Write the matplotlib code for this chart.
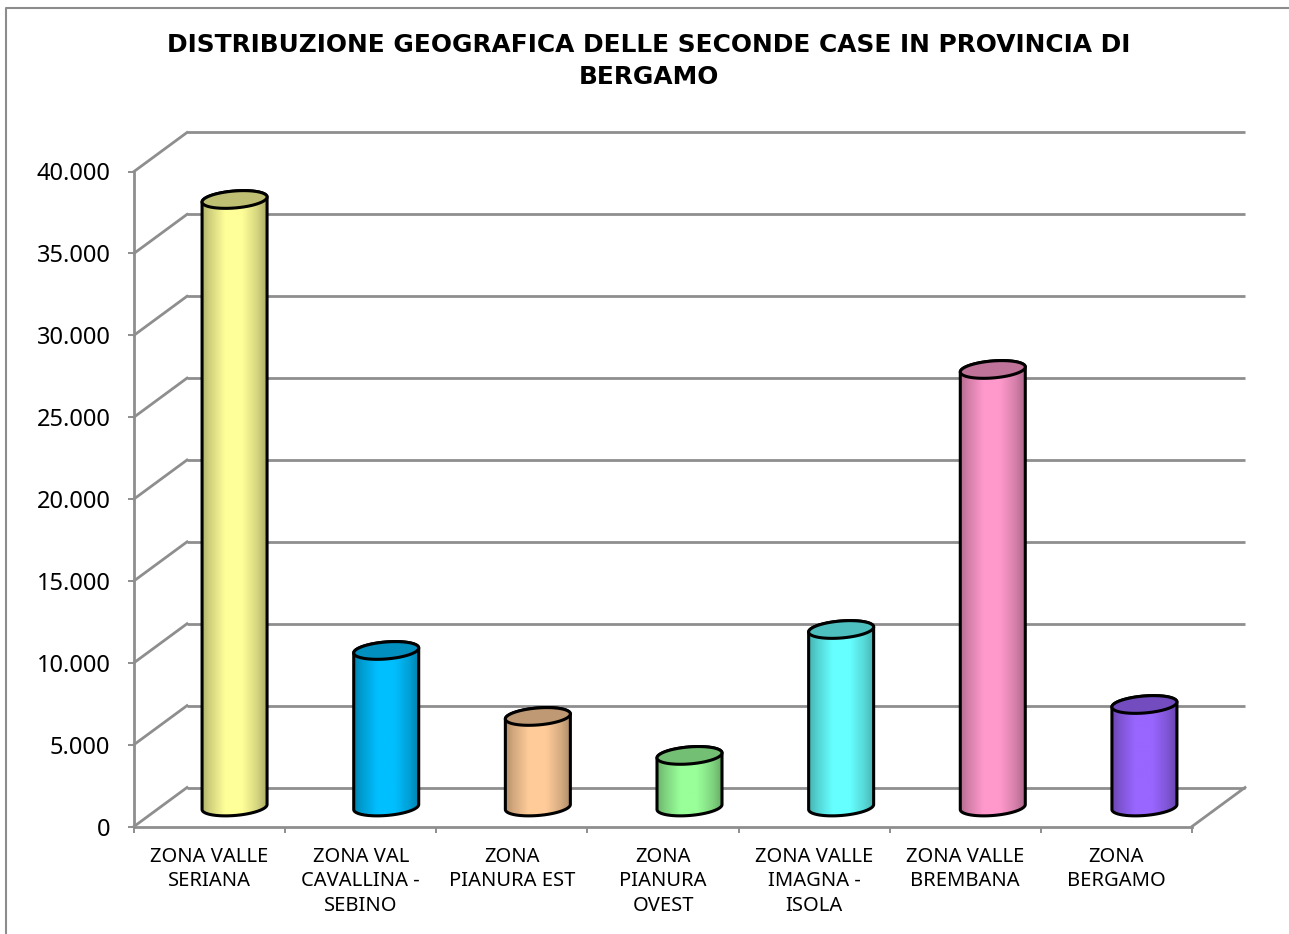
import numpy as np
import matplotlib
matplotlib.use("Agg")
import matplotlib.pyplot as plt
from matplotlib.colors import to_rgb
from matplotlib.lines import Line2D
from matplotlib.patches import Polygon
from matplotlib.path import Path
from matplotlib.ticker import FuncFormatter

plt.rcParams['font.family'] = ['Noto Sans', 'DejaVu Sans']

# Second homes per zone of the Bergamo province
zones = ["ZONA VALLE\nSERIANA", "ZONA VAL\nCAVALLINA -\nSEBINO", "ZONA\nPIANURA EST",
         "ZONA\nPIANURA\nOVEST", "ZONA VALLE\nIMAGNA -\nISOLA", "ZONA VALLE\nBREMBANA",
         "ZONA\nBERGAMO"]
homes = [37100, 9560, 5530, 3150, 10840, 26720, 6260]
colors = ["#FFFF99", "#00BFFF", "#FFCC99", "#99FF99", "#66FFFF", "#FF99CC", "#9966FF"]
y_ticks = [0, 5000, 10000, 15000, 20000, 25000, 30000, 35000, 40000]
title = "DISTRIBUZIONE GEOGRAFICA DELLE SECONDE CASE IN PROVINCIA DI\nBERGAMO"

W, H = 1289, 934
GRID = "#8E8E8E"

fig = plt.figure(figsize=(W / 100, H / 100), dpi=100, facecolor="white")
# Front plane of the pseudo-3D box
left, right, bottom, top = 134, 1192, 826.5, 171.5
ax = fig.add_axes([left / W, 1 - bottom / H, (right - left) / W, (bottom - top) / H])
ax.set_xlim(0, len(zones))
ax.set_ylim(0, 40000)
ax.patch.set_visible(False)

px = len(zones) / (right - left)   # category units per pixel
py = 40000 / (bottom - top)        # value units per pixel
depth_x, depth_y = 53 * px, 39 * py

# Back wall gridlines, side wall diagonals and floor
for v in y_ticks:
    ax.plot([depth_x, len(zones) + depth_x], [v + depth_y] * 2, color=GRID, lw=2,
            clip_on=False, zorder=1, solid_capstyle="butt")
    ax.plot([0, depth_x], [v, v + depth_y], color=GRID, lw=2, clip_on=False, zorder=1)
ax.plot([len(zones), len(zones) + depth_x], [0, depth_y], color=GRID, lw=2,
        clip_on=False, zorder=1)


def ellipse(cx, cy, t):
    a, s, b = 32.5 * px, 2.5 * py, 8.5 * py
    return np.column_stack([cx + a * np.cos(t), cy + s * np.cos(t) + b * np.sin(t)])


for i, (value, color) in enumerate(zip(homes, colors)):
    # Cylinders stand mid-depth, spaced slightly wider than the front axis slots
    cx = i + 0.5 + (25 + 0.5 * i) * px
    base_y, top_y = depth_y / 2, value + depth_y / 2
    t_low = np.linspace(np.pi, 2 * np.pi, 60)
    t_all = np.linspace(0, 2 * np.pi, 120)
    outline = np.vstack([ellipse(cx, base_y, t_low),
                         ellipse(cx, top_y, np.linspace(0, np.pi, 60))])
    base = np.array(to_rgb(color))

    # Cylinder side shading, dark at both edges
    u = np.linspace(0, 1, 128)
    shade = np.interp(u, [0, 0.12, 0.36, 0.62, 0.85, 1], [0.70, 0.82, 1, 1, 0.84, 0.68])
    img = (shade[:, None] * base)[None, :, :]
    body = Polygon(outline, closed=True, facecolor="none", edgecolor="black", lw=2.2,
                   zorder=4, clip_on=False, joinstyle="round")
    im = ax.imshow(img, extent=[cx - 32.5 * px, cx + 32.5 * px, 0, top_y + 10 * py],
                   aspect="auto", zorder=3, interpolation="bilinear")
    im.set_clip_path(Path(outline), transform=ax.transData)
    ax.add_patch(body)
    ax.add_patch(Polygon(ellipse(cx, top_y, t_all), closed=True, facecolor=base * 0.75,
                         edgecolor="black", lw=2.2, zorder=5, clip_on=False))

ax.set_xlim(0, len(zones))
ax.set_ylim(0, 40000)

# Axes
for name in ("top", "right"):
    ax.spines[name].set_visible(False)
for name in ("left", "bottom"):
    ax.spines[name].set_color(GRID)
    ax.spines[name].set_linewidth(2)
ax.set_yticks(y_ticks)
ax.yaxis.set_major_formatter(FuncFormatter(lambda v, _: f"{int(v):,}".replace(",", ".")))
ax.tick_params(axis="y", length=4.5, width=1.4, color=GRID, labelsize=17, pad=12.5)
ax.set_xticks(np.arange(len(zones) + 1))
ax.set_xticklabels([])
ax.set_xticks(np.arange(len(zones)) + 0.5, zones, minor=True)
ax.tick_params(axis="x", which="major", length=4.5, width=1.4, color=GRID)
ax.tick_params(axis="x", which="minor", length=0, labelsize=14.5, pad=14.5)
for lab in ax.get_xticklabels(minor=True):
    lab.set_linespacing(1.31)

fig.text(649 / W, 1 - 61 / H, title, ha="center", va="center", fontsize=17.9, fontweight="bold",
         family="DejaVu Sans", linespacing=1.38)

# Chart area frame
fig.add_artist(Line2D([6 / W, 6 / W, 1], [0, 1 - 8 / H, 1 - 8 / H], color="#8C8C8C", lw=1.5))

fig.savefig("out.png", dpi=100)
